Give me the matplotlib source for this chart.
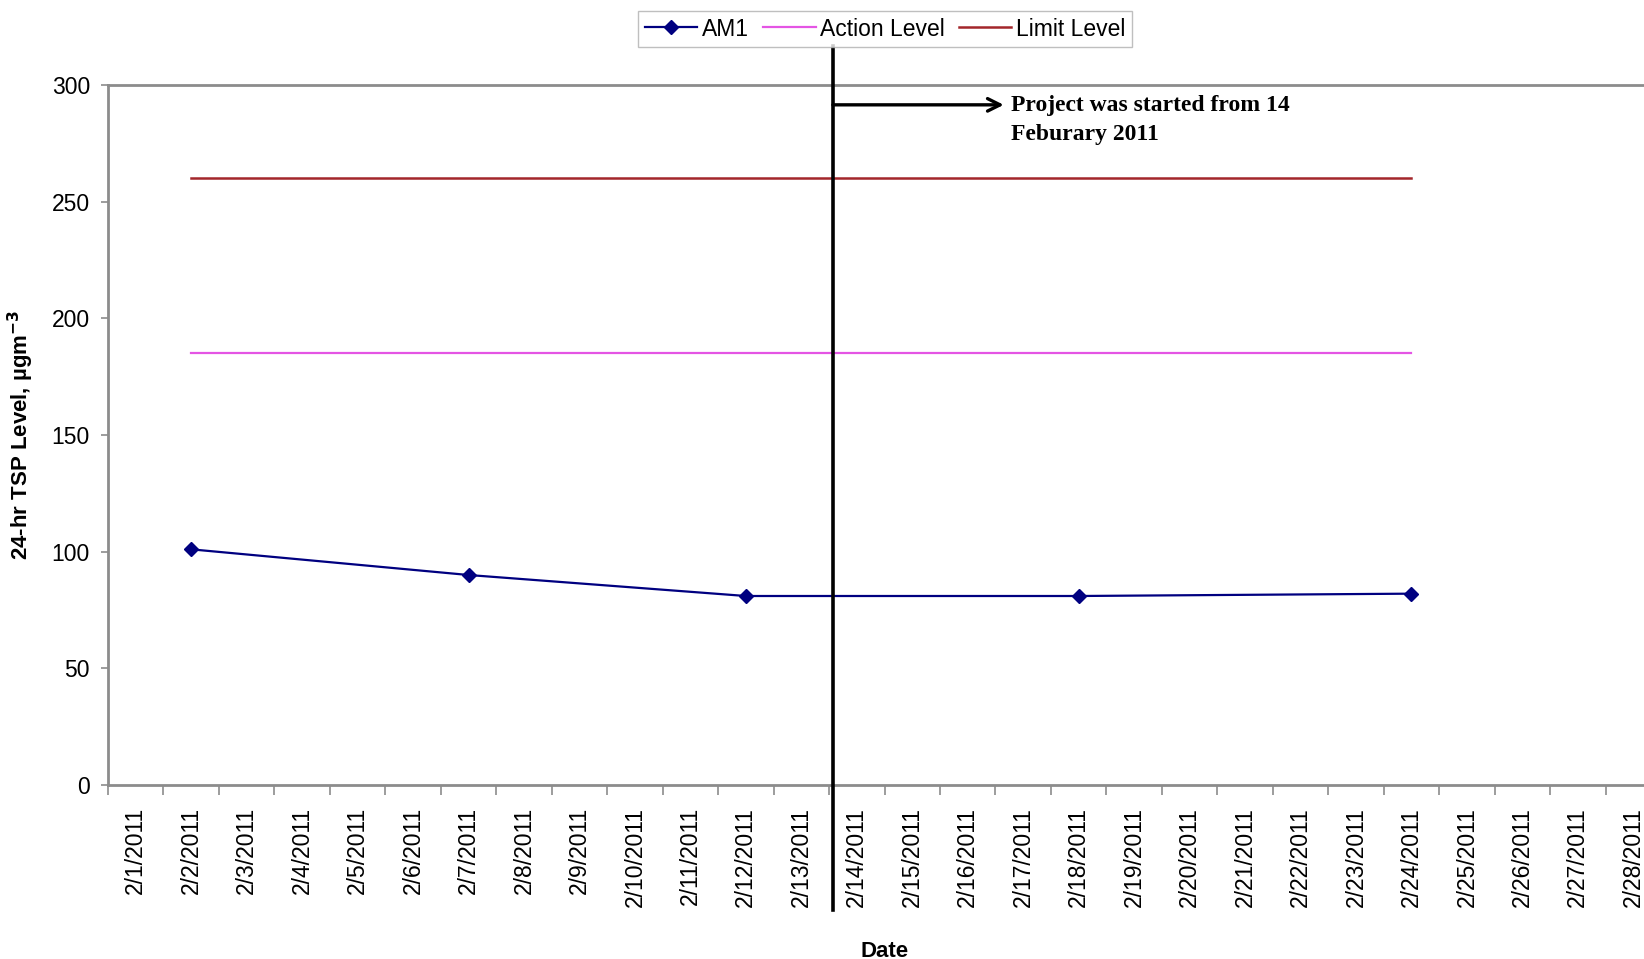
import matplotlib

matplotlib.use("Agg")
import matplotlib.pyplot as plt
import matplotlib.transforms as mtransforms
from matplotlib.ticker import FixedLocator, MultipleLocator

# ---- data -------------------------------------------------------------
DATES = [f"2/{d}/2011" for d in range(1, 29)]
AM1_DATES = ["2/2/2011", "2/7/2011", "2/12/2011", "2/18/2011", "2/24/2011"]
AM1_TSP = [101, 90, 81, 81, 82]
ACTION_LEVEL = [185, 185, 185, 185, 185]
LIMIT_LEVEL = [260, 260, 260, 260, 260]
PROJECT_START = "2/14/2011"

NAVY, MAGENTA, DARKRED, GRID = "#000080", "#E455E4", "#A3262B", "#8c8c8c"

plt.rcParams["font.family"] = ["Liberation Sans", "DejaVu Sans"]

fig = plt.figure(figsize=(16.44, 9.59), dpi=100)
ax = fig.add_axes([108 / 1644, 174 / 959, 1553 / 1644, 700 / 959])

xs = [DATES.index(d) for d in AM1_DATES]
ax.plot(xs, AM1_TSP, "-D", color=NAVY, lw=1.6, ms=7, label="AM1", zorder=4)
ax.plot(xs, ACTION_LEVEL, "-", color=MAGENTA, lw=1.6, label="Action Level", zorder=3)
ax.plot(xs, LIMIT_LEVEL, "-", color=DARKRED, lw=1.8, label="Limit Level", zorder=3)

ax.set_xlim(-0.5, len(DATES) - 0.5)
ax.set_ylim(0, 300)
ax.yaxis.set_major_locator(MultipleLocator(50))

ax.set_xticks(range(len(DATES)))
ax.set_xticklabels(DATES, rotation=90, va="top", ha="center")
ax.xaxis.set_minor_locator(FixedLocator([i - 0.5 for i in range(len(DATES) + 1)]))
ax.tick_params(axis="x", which="major", length=0, pad=16, labelsize=16.5)
ax.tick_params(axis="x", which="minor", length=7, width=1.2, color=GRID, direction="out")
ax.tick_params(axis="y", length=5, width=1.2, color=GRID, pad=8, labelsize=16.5)

for side in ("left", "bottom", "top"):
    ax.spines[side].set_color(GRID)
    ax.spines[side].set_linewidth(2)
ax.spines["right"].set_visible(False)

ax.set_ylabel(r"24-hr TSP Level, µgm$^{\mathbf{-3}}$", fontsize=16, fontweight="bold", labelpad=11)
ax.set_xlabel("Date", fontsize=16, fontweight="bold", labelpad=24)

# project start marker: vertical line running from legend down past the labels
xs0 = DATES.index(PROJECT_START) - 0.5 + 0.07
blend = mtransforms.blended_transform_factory(ax.transData, fig.transFigure)
ax.plot([xs0, xs0], [1 - 46 / 959, 1 - 910 / 959], color="black", lw=2.6,
        transform=blend, clip_on=False, zorder=6)

ax.annotate("", xy=(15.65, 291.5), xytext=(xs0, 291.5),
            arrowprops=dict(arrowstyle="->,head_length=0.9,head_width=0.45",
                            color="black", lw=2.4, shrinkA=0, shrinkB=0))
ax.text(15.78, 291.5, "Project was started from 14\nFeburary 2011",
        family=["Liberation Serif", "DejaVu Serif"], fontweight="bold",
        fontsize=17, ha="left", va="top", linespacing=1.5,
        transform=ax.transData + mtransforms.ScaledTranslation(0, 10 / 100, fig.dpi_scale_trans))

fig.legend(loc="center", bbox_to_anchor=(885 / 1644, 1 - 29 / 959), ncol=3,
           fontsize=16.5, frameon=True, fancybox=False, edgecolor="#b0b0b0",
           handlelength=2.3, handletextpad=0.2, columnspacing=0.6,
           borderpad=0.3, borderaxespad=0)

fig.savefig("out.png", dpi=100, facecolor="white")
